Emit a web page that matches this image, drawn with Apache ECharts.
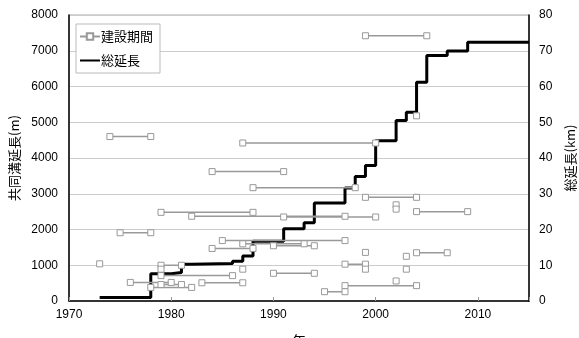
<!DOCTYPE html>
<html><head><meta charset="utf-8">
<script src="https://cdn.jsdelivr.net/npm/echarts@6/dist/echarts.min.js"></script>
<style>html,body{margin:0;padding:0;background:#fff}#c{width:579px;height:338px}</style>
</head><body><div id="c"></div>
<script>
// 建設期間: start year, end year, length (m)
const segStart = [1999,1974,1987,1984,1988,1979,1982,1991,1975,1985,1987,1990,1984,1990,1979,1983,1976,1979,1978,1979,1973,1979,1987,1997,1999,1999,2002,1997,1995,2003,2003,2004,1999,2002,2002,2004,2004];
const segEnd   = [2005,1978,2000,1991,1998,1988,1997,2000,1978,1997,1993,1994,1988,1994,1986,1987,1980,1981,1982,1981,1973,1979,1987,1999,1999,1999,2002,2004,1997,2003,2003,2007,2004,2002,2002,2009,2004];
const segLen   = [7420,4600,4420,3620,3170,2480,2370,2350,1910,1690,1600,1545,1470,775,710,510,520,460,380,1000,1040,890,890,1030,1360,890,560,430,260,1250,890,1350,2900,2690,2570,2500,5180];
// 総延長 step line: year, km
const totalYears = [1973,1978,1980,1981,1982,1986,1987,1988,1991,1993,1994,1997,1998,1999,2000,2002,2003,2004,2005,2007,2009,2015];
const totalKm    = [1.0,7.6,8.0,10.3,10.5,11.1,12.6,16.7,20.2,21.9,27.4,31.6,34.8,37.9,44.8,50.5,52.8,61.2,68.7,69.9,72.4,72.4];
const xTicks = [1970,1980,1990,2000,2010];

const chart = echarts.init(document.getElementById('c'));
const font = 'Liberation Sans, Arial, sans-serif';
const cjk = 'Noto Sans CJK JP, sans-serif';
const series = [{
  name: '総延長', type: 'line', yAxisIndex: 1, step: 'end', symbol: 'none',
  lineStyle: {color: '#000', width: 3}, itemStyle: {color: '#000'},
  data: totalYears.map((y, i) => [y, totalKm[i]]), z: 2
}];
for (let i = 0; i < segStart.length; i++) {
  series.push({
    name: '建設期間', type: 'line', symbol: 'rect', symbolSize: 6, showSymbol: true,
    lineStyle: {color: '#999', width: 1.5},
    itemStyle: {color: '#fff', borderColor: '#999', borderWidth: 1},
    data: segStart[i] === segEnd[i] ? [[segStart[i], segLen[i]]] : [[segStart[i], segLen[i]], [segEnd[i], segLen[i]]],
    z: 3
  });
}
chart.setOption({
  animation: false,
  grid: {left: 69, right: 50, top: 15, bottom: 37, outerBoundsMode: 'none', containLabel: false,
    show: true, borderColor: '#aaa', borderWidth: 1},
  legend: {
    data: [{name: '建設期間'}, {name: '総延長', itemStyle: {opacity: 0}}],
    orient: 'vertical', left: 76, top: 24,
    backgroundColor: '#fff', borderColor: '#bbb', borderWidth: 1, padding: [6, 7, 6, 3],
    itemWidth: 20, itemHeight: 8, itemGap: 11,
    textStyle: {fontFamily: cjk, fontSize: 13, color: '#000', padding: [0, 0, 0, -4]}
  },
  xAxis: {
    type: 'value', min: 1970, max: 2015, interval: 10,
    name: '年', nameLocation: 'middle', nameGap: 33,
    nameTextStyle: {fontFamily: cjk, fontSize: 14, color: '#000'},
    axisLine: {lineStyle: {color: '#000', width: 1.5}},
    axisTick: {inside: true, length: 4, lineStyle: {color: '#999'}},
    axisLabel: {fontFamily: font, fontSize: 12, color: '#000', margin: 8,
      formatter: v => xTicks.indexOf(v) >= 0 ? String(v) : ''},
    splitLine: {show: false}
  },
  yAxis: [{
    type: 'value', min: 0, max: 8000, interval: 1000,
    name: '共同溝延長(m)', nameLocation: 'middle', nameGap: 48, nameRotate: 90,
    nameTextStyle: {fontFamily: cjk, fontSize: 13, color: '#000'},
    axisLine: {show: true, lineStyle: {color: '#000', width: 1.5}},
    axisTick: {show: false},
    axisLabel: {fontFamily: font, fontSize: 12, color: '#000', margin: 11, formatter: v => String(v)},
    splitLine: {lineStyle: {color: '#ccc', width: 1}}
  }, {
    type: 'value', min: 0, max: 80, interval: 10,
    name: '総延長(km)', nameLocation: 'middle', nameGap: 34, nameRotate: 90,
    nameTextStyle: {fontFamily: cjk, fontSize: 13, color: '#000'},
    axisLine: {show: true, lineStyle: {color: '#000', width: 1.5}},
    axisTick: {show: false},
    axisLabel: {fontFamily: font, fontSize: 12, color: '#000', margin: 10, formatter: v => String(v)},
    splitLine: {show: false}
  }],
  series: series
});
</script></body></html>
